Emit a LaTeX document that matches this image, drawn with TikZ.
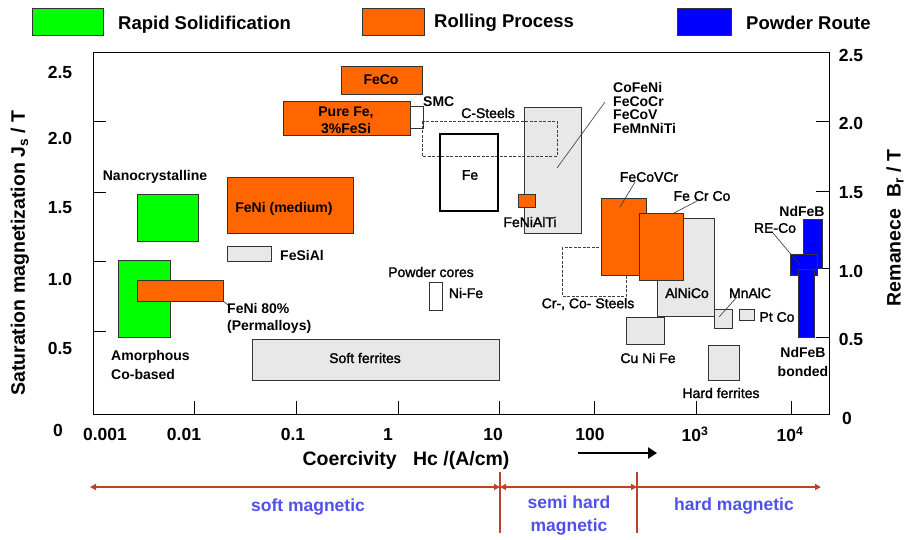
\documentclass[tikz,border=0pt]{standalone}
\usepackage{fontspec}
\setmainfont{Liberation Sans}
\newfontfamily\medfont{Liberation Sans}[FakeBold=1.6]
\usetikzlibrary{arrows.meta}
\definecolor{orng}{RGB}{255,102,0}
\definecolor{grn}{RGB}{0,255,0}
\definecolor{blu}{RGB}{0,0,255}
\definecolor{gry}{RGB}{232,232,232}
\definecolor{redln}{RGB}{192,64,40}
\definecolor{bluetxt}{RGB}{80,80,235}
\begin{document}
\begin{tikzpicture}[x=1pt,y=-1pt,
  box/.style={draw=black!80,line width=0.6pt},
  gbox/.style={box,fill=gry},
  obox/.style={box,fill=orng},
  grbox/.style={box,fill=grn},
  bbox/.style={box,fill=blu},
  dbox/.style={draw=black!75,line width=0.9pt,dash pattern=on 3pt off 1.5pt},
  bl/.style={inner sep=0pt,font=\bfseries\fontsize{14}{17}\selectfont},
  rl/.style={inner sep=0pt,font=\medfont\fontsize{14}{17}\selectfont},
  ticklbl/.style={inner sep=0pt,font=\bfseries\fontsize{17.5}{19}\selectfont},
  legtxt/.style={inner sep=0pt,anchor=west,font=\bfseries\fontsize{18.5}{20}\selectfont},
  axtitle/.style={inner sep=0pt,font=\bfseries\fontsize{19.5}{22}\selectfont},
  zonetxt/.style={inner sep=0pt,text=bluetxt,font=\bfseries\fontsize{17.5}{23}\selectfont,align=center},
  leader/.style={draw=black!80,line width=0.6pt},
  redarr/.style={draw=redln,line width=2.2pt},
  redtip/.style={redarr,{Triangle[length=6pt,width=6pt]}-{Triangle[length=6pt,width=6pt]}}
]
\useasboundingbox (0,0) rectangle (906,539);

% legend
\draw[grbox] (32,8) rectangle (103,35);
\node[legtxt] (legrs) at (118,25) {Rapid Solidification};
\draw[obox] (362,8) rectangle (424,35);
\node[legtxt] (legrp) at (434,23) {Rolling Process};
\draw[bbox] (677,8) rectangle (731,35);
\node[legtxt] (legpr) at (746,23) {Powder Route};

% frame and ticks
\draw[line width=0.8pt] (93,52) rectangle (829,414);
\foreach \yy in {121,192,261,331} \draw[line width=0.8pt] (93,\yy) -- (106,\yy);
\foreach \yy in {121,191,268,337} \draw[line width=0.8pt] (816,\yy) -- (829,\yy);
\foreach \xx in {194,296,398,499,594,696,791} \draw[line width=0.8pt] (\xx,401) -- (\xx,414);

% tick labels left
\node[ticklbl] (l25) at (60,72) {2.5};
\node[ticklbl] (l20) at (60,138) {2.0};
\node[ticklbl] (l15) at (60,208) {1.5};
\node[ticklbl] (l10) at (60,279) {1.0};
\node[ticklbl] (l05) at (60,348) {0.5};
\node[ticklbl] (l00) at (58,430) {0};
% right
\node[ticklbl] (r25) at (851,55) {2.5};
\node[ticklbl] (r20) at (851,123) {2.0};
\node[ticklbl] (r15) at (851,193) {1.5};
\node[ticklbl] (r10) at (851,271) {1.0};
\node[ticklbl] (r05) at (851,339) {0.5};
\node[ticklbl] (r00) at (847,418) {0};
% bottom
\node[ticklbl] (b1) at (105,434) {0.001};
\node[ticklbl] (b2) at (184,434) {0.01};
\node[ticklbl] (b3) at (293,434) {0.1};
\node[ticklbl] (b4) at (388,434) {1};
\node[ticklbl] (b5) at (493,434) {10};
\node[ticklbl] (b6) at (590,434) {100};
\node[ticklbl] (b7) at (695,434) {10\textsuperscript{3}};
\node[ticklbl] (b8) at (790,434) {10\textsuperscript{4}};

% axis titles
\node[axtitle,rotate=90] (ytitle) at (20,253) {Saturation magnetization J\textsubscript{s} / T};
\node[axtitle,rotate=90] (y2title) at (895,228) {Remanece\ \ B\textsubscript{r} / T};
\node[axtitle] (xtitle) at (406,460) {Coercivity\ \ \ Hc /(A/cm)};
\coordinate (ka) at (578,453);
\coordinate (kb) at (657,453);
\draw[line width=2.8pt,-{Triangle[length=9pt,width=11pt]}] (ka) -- (kb);

% grey boxes
\draw[gbox] (524,107) rectangle (581,233);
\draw[gbox] (657,218) rectangle (714,316);
\draw[gbox] (626,317) rectangle (664,344);
\draw[gbox] (714,309) rectangle (732,328);
\draw[gbox] (739,309) rectangle (754,320);
\draw[gbox] (708,345) rectangle (739,380);
\draw[gbox] (252,339) rectangle (499,380);
\draw[gbox] (227,246) rectangle (271,261);
\draw[box,fill=white] (409,106) rectangle (423,128);
\draw[box,fill=white] (429,282) rectangle (442,310);

% dashed boxes
\draw[dbox] (422,121) rectangle (557,156);
\draw[dbox] (562,247) rectangle (626,296);

% green
\draw[grbox] (137,194) rectangle (198,241);
\draw[grbox] (118,260) rectangle (170,337);

% orange
\draw[obox] (341,66) rectangle (422,94);
\draw[obox] (283,101) rectangle (410,135);
\draw[obox] (227,177) rectangle (353,233);
\draw[obox] (137,280) rectangle (223,301);
\draw[obox] (518,194) rectangle (535,207);
\draw[obox] (601,198) rectangle (646,275);
\draw[obox] (639,213) rectangle (683,280);

% Fe
\draw[line width=1.4pt] (440,134) rectangle (498,211);

% blue
\draw[bbox] (803,219) rectangle (822,268);
\draw[bbox] (790,254) rectangle (817,275);
\draw[bbox] (798,269) rectangle (814,337);

% labels
\node[bl] (feco) at (381,80) {FeCo};
\node[bl,align=center] (purefe) at (346,120) {Pure Fe,\\3\%FeSi};
\node[bl,anchor=west] (smc) at (423,102) {SMC};
\node[rl] (csteels) at (488,113) {C-Steels};
\node[rl] (fe) at (470,175) {Fe};
\node[rl] (fenialti) at (530,222) {FeNiAlTi};
\node[bl,anchor=west,align=left,font=\bfseries\fontsize{14}{13.7}\selectfont] (cofeni) at (613,108) {CoFeNi\\FeCoCr\\FeCoV\\FeMnNiTi};
\node[bl] (nano) at (155,177) {Nanocrystalline};
\node[bl] (fenimed) at (284,209) {FeNi (medium)};
\node[bl,anchor=west] (fesial) at (280,255) {FeSiAl};
\node[bl,anchor=west,align=left,font=\bfseries\fontsize{14}{17}\selectfont] (feni80) at (227,318) {FeNi 80\%\\(Permalloys)};
\node[bl,anchor=west,align=left,font=\bfseries\fontsize{14}{19}\selectfont] (amorph) at (111,365) {Amorphous\\Co-based};
\node[rl] (softf) at (365,358) {Soft ferrites};
\node[rl] (powder) at (431,272) {Powder cores};
\node[rl] (nife) at (466,293) {Ni-Fe};
\node[rl] (fecovcr) at (649,177) {FeCoVCr};
\node[rl] (fecrco) at (702,196) {Fe Cr Co};
\node[rl] (alnico) at (687,293) {AlNiCo};
\node[rl] (crco) at (588,304) {Cr-, Co- Steels};
\node[rl] (cunife) at (648,358) {Cu Ni Fe};
\node[rl] (mnalc) at (750,293) {MnAlC};
\node[rl] (ptco) at (777,317) {Pt Co};
\node[rl] (hardf) at (721,393) {Hard ferrites};
\node[bl] (ndfeb) at (802,211) {NdFeB};
\node[rl] (reco) at (775,228) {RE-Co};
\node[bl,align=center,font=\bfseries\fontsize{14}{19}\selectfont] (bonded) at (803,362) {NdFeB\\bonded};

% leaders
\coordinate (p1a) at (223,301); \coordinate (p1b) at (228,305);
\draw[leader] (p1a) -- (p1b);
\coordinate (p2a) at (605,102); \coordinate (p2b) at (557,168);
\draw[leader] (p2a) -- (p2b);
\coordinate (p3a) at (635,182); \coordinate (p3b) at (620,207);
\draw[leader] (p3a) -- (p3b);
\coordinate (p4a) at (674,213); \coordinate (p4b) at (697,201);
\draw[leader] (p4a) -- (p4b);
\coordinate (p5a) at (719,317); \coordinate (p5b) at (737,297);
\draw[leader] (p5a) -- (p5b);
\coordinate (p6a) at (773,233); \coordinate (p6b) at (800,265);
\draw[leader] (p6a) -- (p6b);

% zones
\coordinate (za) at (90,487);
\coordinate (zb) at (500,487);
\coordinate (zc) at (637,487);
\coordinate (zd) at (821,487);
\coordinate (v1t) at (500,472); \coordinate (v1b) at (500,533);
\coordinate (v2t) at (637,472); \coordinate (v2b) at (637,533);
\draw[redtip] (za) -- (zb);
\draw[redtip] (zb) -- (zc);
\draw[redarr,-{Triangle[length=6pt,width=6pt]}] (zc) -- (zd);
\draw[redarr] (v1t) -- (v1b);
\draw[redarr] (v2t) -- (v2b);
\node[zonetxt] (soft) at (308,507) {soft magnetic};
\node[zonetxt] (semi) at (569,516) {semi hard\\magnetic};
\node[zonetxt] (hard) at (734,506) {hard magnetic};
\end{tikzpicture}
\end{document}
